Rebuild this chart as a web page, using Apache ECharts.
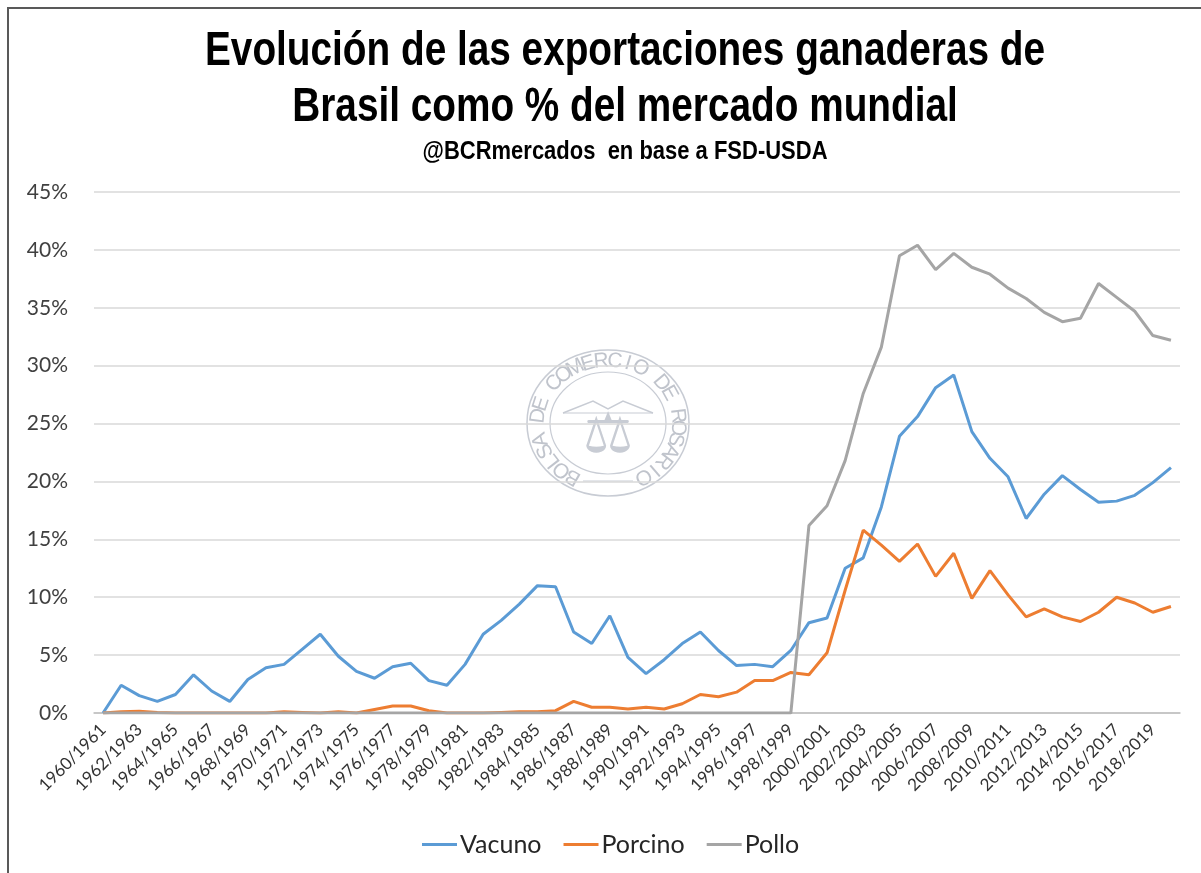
<!DOCTYPE html>
<html>
<head>
<meta charset="utf-8">
<script src="https://cdn.jsdelivr.net/npm/echarts@6/dist/echarts.min.js"></script>
<style>
  html, body { margin: 0; padding: 0; background: #fff; }
  #chart { width: 1201px; height: 873px; }
</style>
</head>
<body>
<div id="chart"></div>
<script>
// categorias (campañas)
var categorias = [
  '1960/1961','1961/1962','1962/1963','1963/1964','1964/1965','1965/1966','1966/1967','1967/1968','1968/1969','1969/1970',
  '1970/1971','1971/1972','1972/1973','1973/1974','1974/1975','1975/1976','1976/1977','1977/1978','1978/1979','1979/1980',
  '1980/1981','1981/1982','1982/1983','1983/1984','1984/1985','1985/1986','1986/1987','1987/1988','1988/1989','1989/1990',
  '1990/1991','1991/1992','1992/1993','1993/1994','1994/1995','1995/1996','1996/1997','1997/1998','1998/1999','1999/2000',
  '2000/2001','2001/2002','2002/2003','2003/2004','2004/2005','2005/2006','2006/2007','2007/2008','2008/2009','2009/2010',
  '2010/2011','2011/2012','2012/2013','2013/2014','2014/2015','2015/2016','2016/2017','2017/2018','2018/2019','2019/2020'
];

// % del mercado mundial
var vacuno = [
  0, 2.4, 1.5, 1.0, 1.6, 3.3, 1.9, 1.0, 2.9, 3.9,
  4.2, 5.5, 6.8, 4.9, 3.6, 3.0, 4.0, 4.3, 2.8, 2.4,
  4.2, 6.8, 8.0, 9.4, 11.0, 10.9, 7.0, 6.0, 8.4, 4.8,
  3.4, 4.6, 6.0, 7.0, 5.4, 4.1, 4.2, 4.0, 5.4, 7.8,
  8.2, 12.5, 13.4, 17.8, 23.9, 25.6, 28.1, 29.2, 24.3, 22.0,
  20.4, 16.8, 18.9, 20.5, 19.3, 18.2, 18.3, 18.8, 19.9, 21.2
];
var porcino = [
  0, 0.1, 0.15, 0.05, 0, 0, 0, 0, 0, 0,
  0.1, 0.05, 0, 0.1, 0, 0.3, 0.6, 0.6, 0.2, 0,
  0, 0, 0.05, 0.1, 0.1, 0.2, 1.0, 0.5, 0.5, 0.35,
  0.5, 0.35, 0.8, 1.6, 1.4, 1.8, 2.8, 2.8, 3.5, 3.3,
  5.2, 10.6, 15.8, 14.5, 13.1, 14.6, 11.8, 13.8, 9.9, 12.3,
  10.2, 8.3, 9.0, 8.3, 7.9, 8.7, 10.0, 9.5, 8.7, 9.2
];
var pollo = [
  0, 0, 0, 0, 0, 0, 0, 0, 0, 0,
  0, 0, 0, 0, 0, 0, 0, 0, 0, 0,
  0, 0, 0, 0, 0, 0, 0, 0, 0, 0,
  0, 0, 0, 0, 0, 0, 0, 0, 0, 16.2,
  17.9, 21.8, 27.6, 31.6, 39.5, 40.4, 38.3, 39.7, 38.5, 37.9,
  36.7, 35.8, 34.6, 33.8, 34.1, 37.1, 35.9, 34.7, 32.6, 32.2
];

var titulo = ['Evolución de las exportaciones ganaderas de', 'Brasil como % del mercado mundial'];
var subtitulo = '@BCRmercados  en base a FSD-USDA';
var sello = 'BOLSA DE COMERCIO DE ROSARIO';

var colores = ['#5b9bd5', '#ed7d31', '#a5a5a5'];
var fuenteEjes = 'Lato, "Open Sans", "Noto Sans", sans-serif';

// el titulo original usa una fuente condensada: se comprime en horizontal
var ctx = document.createElement('canvas').getContext('2d');
function ancho(txt, font) { ctx.font = font; return ctx.measureText(txt).width; }
var fTit = 'bold 48px "Liberation Sans", Arial, sans-serif';
var fSub = 'bold 25px "Liberation Sans", Arial, sans-serif';
var escTit = 840 / ancho(titulo[0], fTit);
var escSub = 405 / ancho(subtitulo, fSub);

function textoComprimido(txt, font, y, esc) {
  return { type: 'text', x: 625, y: y, scaleX: esc, originX: 0, originY: 0,
    style: { text: txt, font: font, fill: '#000', align: 'center', verticalAlign: 'middle' } };
}

// sello de agua (decorativo)
var cx = 608, cy = 423;
var gris = '#c8ccd4';
var marca = [
  { type: 'ellipse', shape: { cx: cx, cy: cy, rx: 81, ry: 73 }, style: { fill: 'none', stroke: gris, lineWidth: 1.5 }, z: 0 },
  { type: 'ellipse', shape: { cx: cx, cy: cy, rx: 58, ry: 51 }, style: { fill: 'none', stroke: gris, lineWidth: 1.2 }, z: 0 },
  { type: 'polyline', shape: { points: [[cx - 45, cy - 10], [cx - 15, cy - 22], [cx, cy - 14], [cx + 15, cy - 22], [cx + 45, cy - 10]] }, style: { stroke: gris, lineWidth: 1.5, fill: 'none' }, z: 0 },
  { type: 'line', shape: { x1: cx - 45, y1: cy - 10, x2: cx + 45, y2: cy - 10 }, style: { stroke: gris, lineWidth: 1.2 }, z: 0 },
  { type: 'text', x: cx, y: cy + 14, style: { text: '⚖', font: '56px "DejaVu Sans"', fill: gris, align: 'center', verticalAlign: 'middle' }, z: 0 },
  { type: 'line', shape: { x1: cx - 25, y1: cy + 58, x2: cx + 25, y2: cy + 58 }, style: { stroke: gris, lineWidth: 1 }, z: 0 }
];
var a0 = -150, a1 = 150;
for (var k = 0; k < sello.length; k++) {
  var ang = (a0 + (a1 - a0) * k / (sello.length - 1)) * Math.PI / 180;
  marca.push({
    type: 'text',
    x: cx + 70 * Math.sin(ang),
    y: cy - 62 * Math.cos(ang),
    rotation: -ang,
    style: { text: sello[k], font: '21px "Liberation Sans", Arial, sans-serif', fill: '#c0c4cc', align: 'center', verticalAlign: 'middle' },
    z: 0
  });
}

var chart = echarts.init(document.getElementById('chart'), null, { renderer: 'canvas' });

var option = {
  backgroundColor: '#ffffff',
  animation: false,
  color: colores,
  graphic: [
    { type: 'rect', shape: { x: 8, y: 8, width: 1300, height: 1000 }, style: { fill: 'none', stroke: '#595959', lineWidth: 2 }, z: 0 },
    textoComprimido(titulo[0], fTit, 52, escTit),
    textoComprimido(titulo[1], fTit, 108, escTit),
    textoComprimido(subtitulo, fSub, 152, escSub)
  ].concat(marca),
  legend: {
    top: 827,
    left: 417,
    itemGap: 22,
    itemWidth: 35,
    itemHeight: 3,
    icon: 'rect',
    textStyle: { fontFamily: fuenteEjes, fontSize: 25, color: '#262626', padding: [0, 0, 0, -2] },
    data: ['Vacuno', 'Porcino', 'Pollo']
  },
  grid: { left: 94, right: 21, top: 192, bottom: 160, containLabel: false },
  xAxis: {
    type: 'category',
    data: categorias,
    boundaryGap: true,
    axisLine: { lineStyle: { color: '#bfbfbf', width: 1.5 } },
    axisTick: { show: false },
    axisLabel: { rotate: 45, interval: 1, fontFamily: fuenteEjes, fontSize: 17, color: '#333333', margin: 14 }
  },
  yAxis: {
    type: 'value',
    min: 0,
    max: 45,
    interval: 5,
    axisLine: { show: false },
    axisTick: { show: false },
    splitLine: { lineStyle: { color: '#d9d9d9', width: 1.5 } },
    axisLabel: { formatter: '{value}%', fontFamily: fuenteEjes, fontSize: 21, color: '#404040', margin: 26 }
  },
  series: [
    { name: 'Vacuno', type: 'line', data: vacuno, showSymbol: false, lineStyle: { width: 3 }, z: 3 },
    { name: 'Porcino', type: 'line', data: porcino, showSymbol: false, lineStyle: { width: 3 }, z: 4 },
    { name: 'Pollo', type: 'line', data: pollo, showSymbol: false, lineStyle: { width: 3 }, z: 5 }
  ]
};

chart.setOption(option);
</script>
</body>
</html>
